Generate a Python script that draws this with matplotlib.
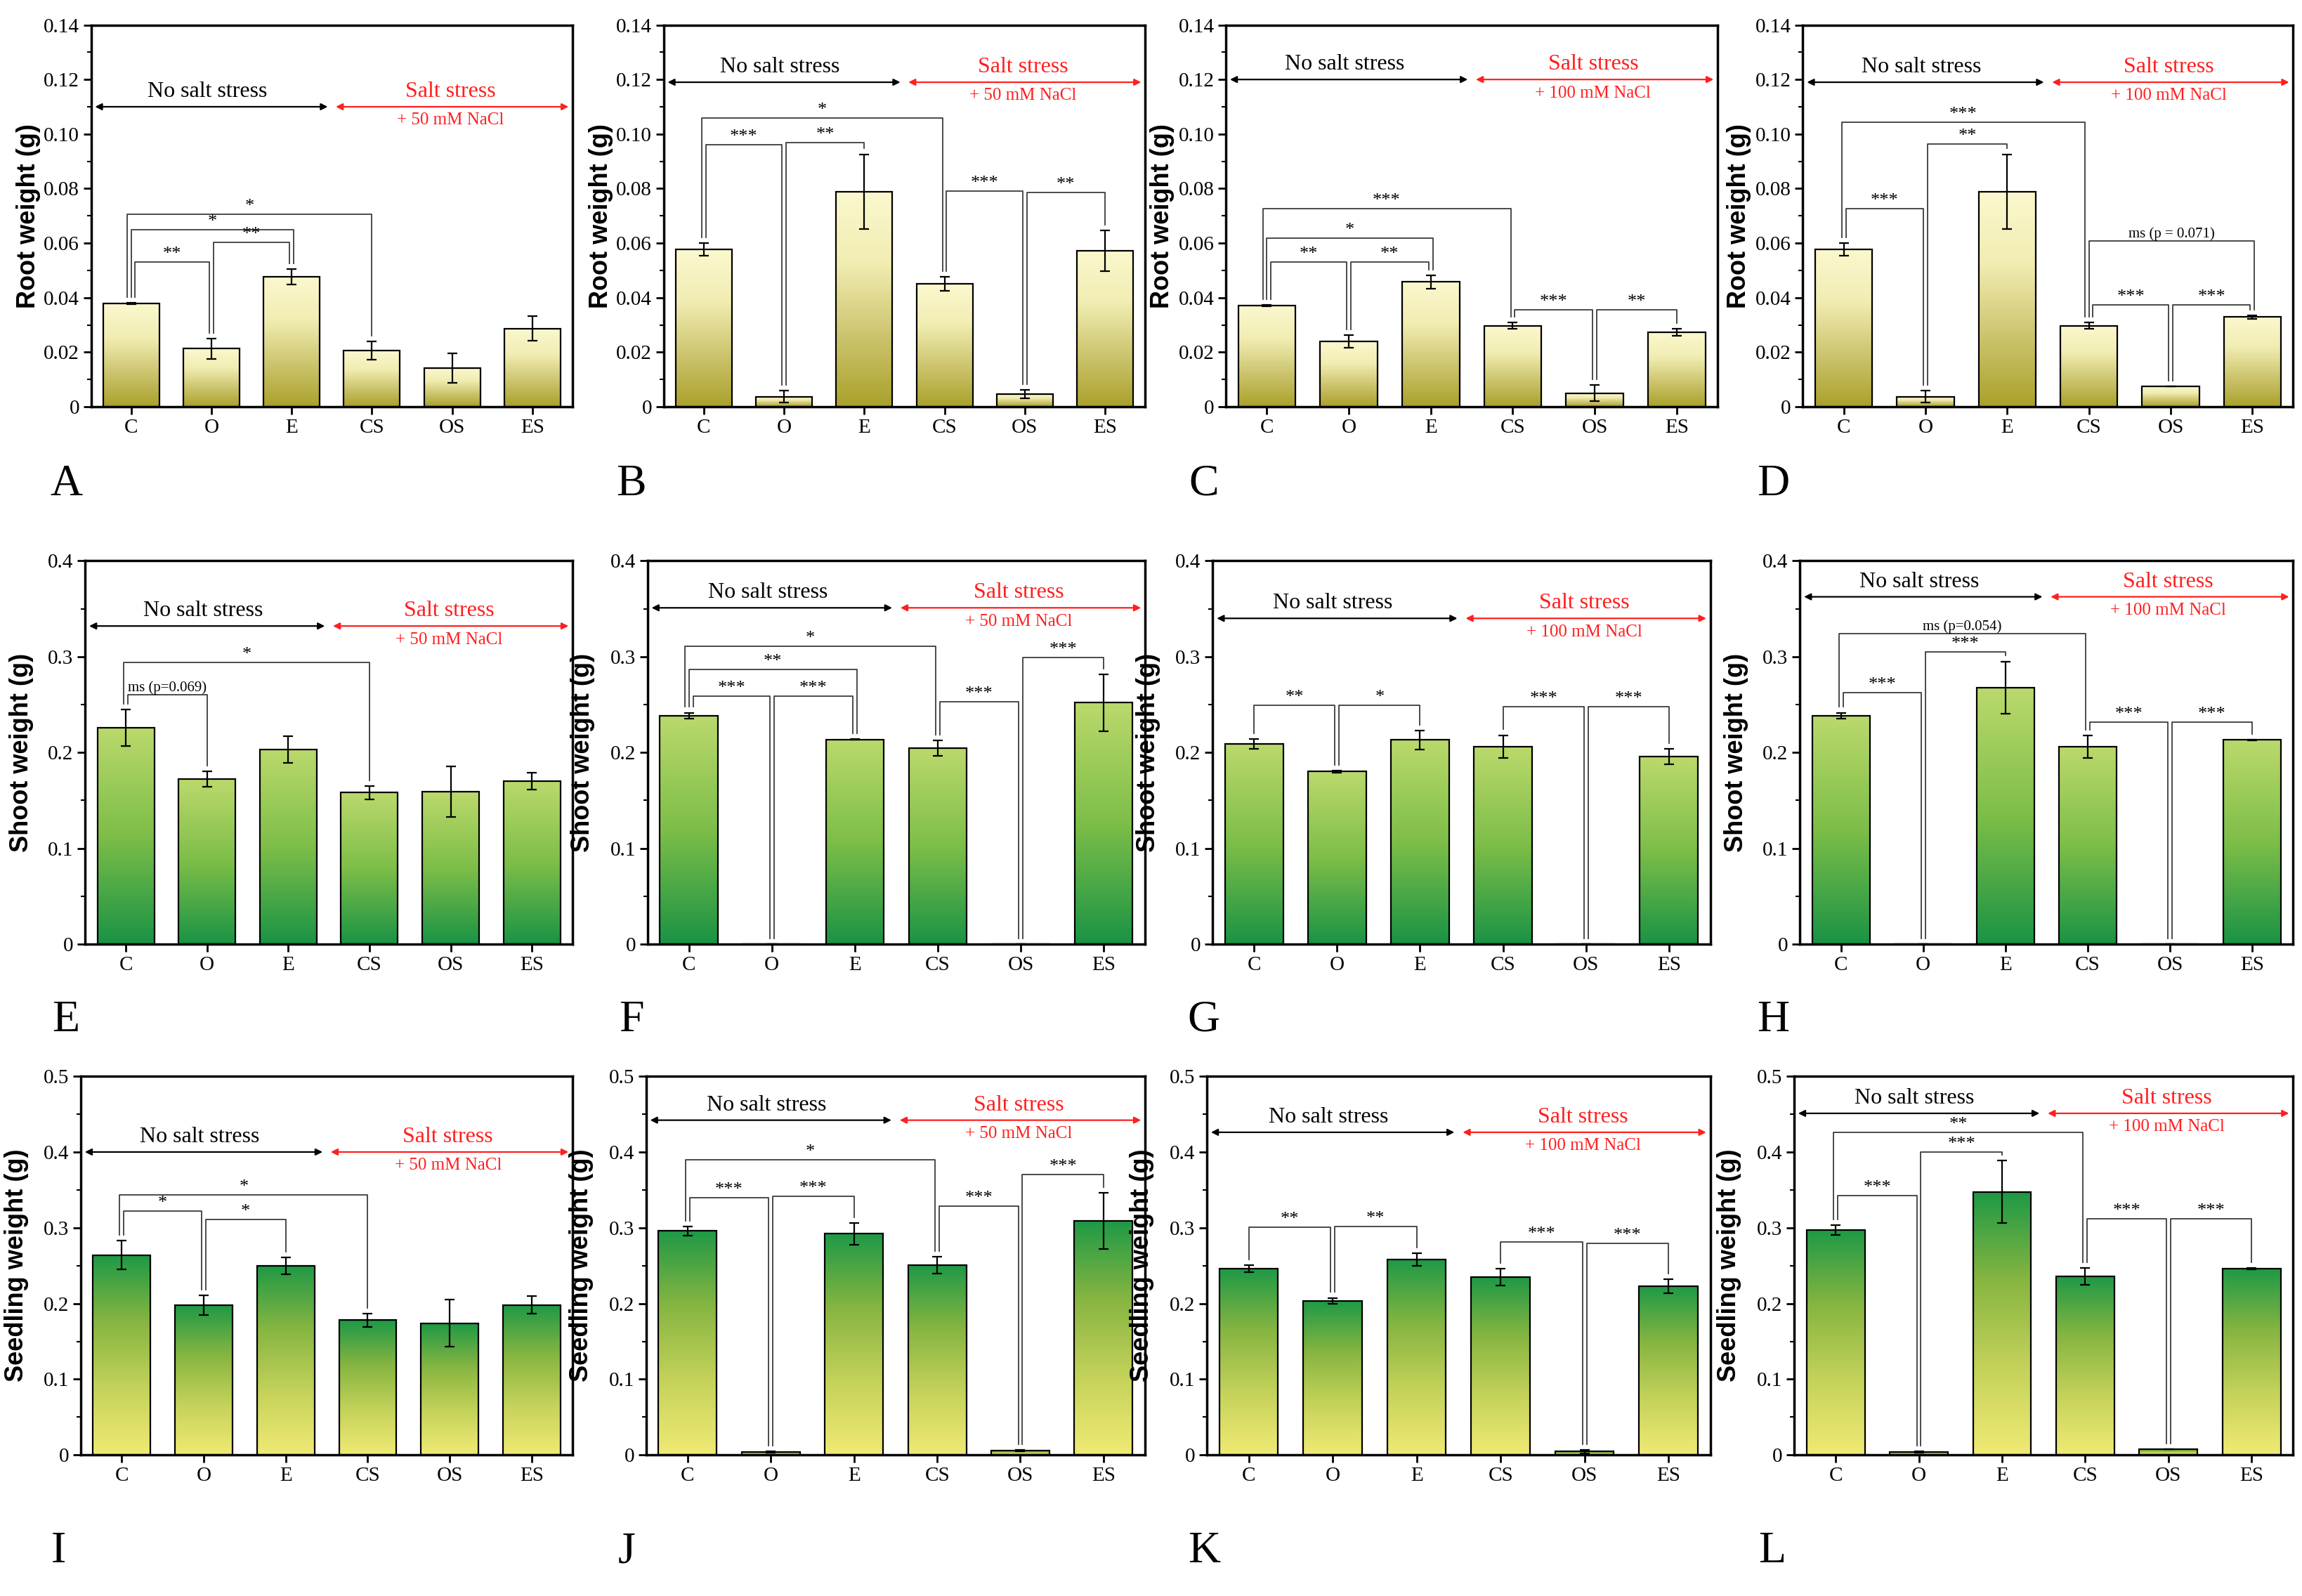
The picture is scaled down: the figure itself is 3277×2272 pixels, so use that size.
import numpy as np
import matplotlib
matplotlib.use('Agg')
import matplotlib.pyplot as plt
from matplotlib.colors import LinearSegmentedColormap
from matplotlib.ticker import MultipleLocator, FuncFormatter

plt.rcParams['font.family'] = 'Liberation Serif'

groups = ['C', 'O', 'E', 'CS', 'OS', 'ES']

# root weight (g)
a_mean = [0.0378, 0.0213, 0.0476, 0.0206, 0.0142, 0.0287]
a_err = [0.0003, 0.0037, 0.0029, 0.0034, 0.0054, 0.0046]
b_mean = [0.0578, 0.0037, 0.0789, 0.0450, 0.0047, 0.0572]
b_err = [0.0023, 0.0022, 0.0137, 0.0026, 0.0015, 0.0075]
c_mean = [0.0371, 0.0239, 0.0458, 0.0297, 0.0050, 0.0273]
c_err = [0.0003, 0.0023, 0.0024, 0.0011, 0.0030, 0.0013]
d_mean = [0.0578, 0.0037, 0.0789, 0.0297, 0.0075, 0.0329]
d_err = [0.0023, 0.0022, 0.0137, 0.0011, 0.0, 0.0006]
# shoot weight (g)
e_mean = [0.226, 0.172, 0.203, 0.158, 0.159, 0.170]
e_err = [0.019, 0.008, 0.014, 0.007, 0.0265, 0.009]
f_mean = [0.2385, 0.0, 0.2135, 0.2045, 0.0, 0.252]
f_err = [0.003, 0.0, 0.0005, 0.008, 0.0, 0.0296]
g_mean = [0.209, 0.180, 0.213, 0.206, 0.0, 0.1955]
g_err = [0.005, 0.001, 0.010, 0.012, 0.0, 0.008]
h_mean = [0.2385, 0.0, 0.2677, 0.206, 0.0, 0.213]
h_err = [0.003, 0.0, 0.0274, 0.0117, 0.0, 0.0005]
# seedling weight (g)
i_mean = [0.264, 0.198, 0.250, 0.178, 0.174, 0.198]
i_err = [0.019, 0.013, 0.011, 0.009, 0.031, 0.0115]
j_mean = [0.296, 0.004, 0.292, 0.2505, 0.0056, 0.309]
j_err = [0.006, 0.001, 0.0146, 0.011, 0.001, 0.037]
k_mean = [0.246, 0.2035, 0.258, 0.2346, 0.0045, 0.2226]
k_err = [0.005, 0.004, 0.008, 0.011, 0.002, 0.0094]
l_mean = [0.2968, 0.0041, 0.3475, 0.236, 0.0079, 0.246]
l_err = [0.0064, 0.001, 0.0413, 0.011, 0.0, 0.0006]

# significance brackets: (left bar, right bar, bracket height, label)
a_sig = [(0, 1, 0.053, '**'), (1, 2, 0.0602, '**'), (0, 2, 0.0649, '*'), (0, 3, 0.0705, '*')]
b_sig = [(0, 1, 0.0962, '***'), (1, 2, 0.0969, '**'), (0, 3, 0.1059, '*'),
         (3, 4, 0.0791, '***'), (4, 5, 0.0786, '**')]
c_sig = [(0, 1, 0.053, '**'), (1, 2, 0.053, '**'), (0, 2, 0.0618, '*'), (0, 3, 0.0726, '***'),
         (3, 4, 0.0355, '***'), (4, 5, 0.0355, '**')]
d_sig = [(0, 1, 0.0726, '***'), (1, 2, 0.0964, '**'), (0, 3, 0.1043, '***'),
         (3, 5, 0.0607, 'ms (p = 0.071)'), (3, 4, 0.0374, '***'), (4, 5, 0.0374, '***')]
e_sig = [(0, 1, 0.260, 'ms (p=0.069)'), (0, 3, 0.294, '*')]
f_sig = [(0, 1, 0.2586, '***'), (1, 2, 0.2586, '***'), (0, 2, 0.2866, '**'), (0, 3, 0.311, '*'),
         (3, 4, 0.2526, '***'), (4, 5, 0.2992, '***')]
g_sig = [(0, 1, 0.249, '**'), (1, 2, 0.249, '*'), (3, 4, 0.248, '***'), (4, 5, 0.248, '***')]
h_sig = [(0, 1, 0.2626, '***'), (1, 2, 0.3053, '***'), (0, 3, 0.3239, 'ms (p=0.054)'),
         (3, 4, 0.2316, '***'), (4, 5, 0.2316, '***')]
i_sig = [(0, 1, 0.322, '*'), (1, 2, 0.311, '*'), (0, 3, 0.343, '*')]
j_sig = [(0, 1, 0.3395, '***'), (1, 2, 0.3413, '***'), (0, 3, 0.390, '*'),
         (3, 4, 0.329, '***'), (4, 5, 0.370, '***')]
k_sig = [(0, 1, 0.3003, '**'), (1, 2, 0.302, '**'), (3, 4, 0.281, '***'), (4, 5, 0.2797, '***')]
l_sig = [(0, 1, 0.3422, '***'), (1, 2, 0.400, '***'), (0, 3, 0.4256, '**'),
         (3, 4, 0.3118, '***'), (4, 5, 0.3118, '***')]

# height of the "No salt stress / Salt stress" arrows
arrow_y = [0.110, 0.119, 0.120, 0.119, 0.332, 0.351, 0.340, 0.3625, 0.400, 0.442, 0.426, 0.451]
nacl_labels = ['+ 50 mM NaCl', '+ 50 mM NaCl', '+ 100 mM NaCl', '+ 100 mM NaCl']
panel_letters = 'ABCDEFGHIJKL'

root_cmap = LinearSegmentedColormap.from_list('root', ['#aaa12b', '#cdc56f', '#f1edb2', '#fbf8cf'])
shoot_cmap = LinearSegmentedColormap.from_list('shoot', ['#1a9345', '#7dbe48', '#bbd96c'])
seed_cmap = LinearSegmentedColormap.from_list('seed', ['#f0ea74', '#c4d25a', '#86b541', '#1e9946'])


def draw_panel(ax, mean, err, sig, ymax, major, fmt, cmap, ylabel, ay, nacl):
    x = np.arange(len(groups))
    w = 0.7
    grad = np.linspace(0, 1, 256).reshape(-1, 1)
    for xi, hv in zip(x, mean):
        if hv > 0:
            ax.imshow(grad, extent=[xi - w / 2, xi + w / 2, 0, hv], origin='lower',
                      aspect='auto', cmap=cmap, zorder=1, interpolation='bilinear')
    ax.bar(x, mean, width=w, fill=False, edgecolor='black', linewidth=1.6, zorder=2)
    ax.errorbar(x, mean, yerr=err, fmt='none', ecolor='black', elinewidth=1.6,
                capsize=5, capthick=1.6, zorder=3)

    # bracket legs sharing a bar are placed side by side
    legs = {}
    for n, (i, j, top, lab) in enumerate(sig):
        legs.setdefault(j, []).append((0, top, n))
        legs.setdefault(i, []).append((1, -top, n))
    xpos = {}
    for kbar, items in legs.items():
        items.sort()
        for idx, (side, t, n) in enumerate(items):
            xpos[(n, side)] = kbar + (idx - (len(items) - 1) / 2) * 0.05
    gap = 0.015 * ymax
    for n, (i, j, top, lab) in enumerate(sig):
        xl = xpos[(n, 1)]
        xr = xpos[(n, 0)]
        yl = mean[i] + err[i] + gap
        yr = mean[j] + err[j] + gap
        ax.plot([xl, xl, xr, xr], [yl, top, top, yr], color='#3c3c3c', lw=1.3, zorder=4)
        fs = 15 if lab.startswith('ms') else 19
        ax.text((xl + xr) / 2, top, lab, ha='center', va='bottom', fontsize=fs, zorder=5)

    red = '#ff1f1f'
    ax.annotate('', xy=(2.45, ay), xytext=(-0.45, ay),
                arrowprops=dict(arrowstyle='<|-|>', color='black', lw=1.6,
                                mutation_scale=14, shrinkA=0, shrinkB=0))
    ax.annotate('', xy=(5.45, ay), xytext=(2.55, ay),
                arrowprops=dict(arrowstyle='<|-|>', color=red, lw=1.6,
                                mutation_scale=14, shrinkA=0, shrinkB=0))
    ax.annotate('No salt stress', xy=(0.95, ay), xytext=(0, 5), textcoords='offset points',
                ha='center', va='bottom', fontsize=23)
    ax.annotate('Salt stress', xy=(3.98, ay), xytext=(0, 5), textcoords='offset points',
                ha='center', va='bottom', fontsize=23, color=red)
    ax.annotate(nacl, xy=(3.98, ay), xytext=(0, -6), textcoords='offset points',
                ha='center', va='top', fontsize=18, color=red)

    ax.set_xlim(-0.5, 5.5)
    ax.set_ylim(0, ymax)
    ax.set_xticks(x)
    ax.set_xticklabels(groups)
    ax.yaxis.set_major_locator(MultipleLocator(major))
    ax.yaxis.set_minor_locator(MultipleLocator(major / 2))
    ax.yaxis.set_major_formatter(FuncFormatter(lambda v, p: '0' if abs(v) < 1e-9 else fmt.format(v)))
    ax.tick_params(which='major', direction='out', length=8, width=2, labelsize=21, pad=4)
    ax.tick_params(which='minor', direction='out', length=4, width=1.5)
    for s in ax.spines.values():
        s.set_linewidth(2.5)
    ax.set_ylabel(ylabel, fontsize=26, fontweight='bold', family='Liberation Sans')
    ax.yaxis.set_label_coords(-0.105, 0.5)


fig = plt.figure(figsize=(32.77, 22.72), dpi=100)
W, H = 1568.0, 1087.0
row_tb = [(17, 277), (382, 643), (733, 991)]
row_lr = [[(62, 390), (452, 780), (835, 1170), (1228, 1562)],
          [(58, 390), (441, 780), (826, 1165), (1226, 1562)],
          [(55, 390), (440, 780), (822, 1165), (1222, 1562)]]
letter_xy = [[45, 430, 820, 1208], [45, 430, 820, 1208], [40, 427, 820, 1207]]
letter_y = [330, 695, 1057]

means = [a_mean, b_mean, c_mean, d_mean, e_mean, f_mean, g_mean, h_mean, i_mean, j_mean, k_mean, l_mean]
errs = [a_err, b_err, c_err, d_err, e_err, f_err, g_err, h_err, i_err, j_err, k_err, l_err]
sigs = [a_sig, b_sig, c_sig, d_sig, e_sig, f_sig, g_sig, h_sig, i_sig, j_sig, k_sig, l_sig]
row_cfg = [(0.14, 0.02, '{:.2f}', root_cmap, 'Root weight (g)'),
           (0.4, 0.1, '{:.1f}', shoot_cmap, 'Shoot weight (g)'),
           (0.5, 0.1, '{:.1f}', seed_cmap, 'Seedling weight (g)')]

for r in range(3):
    top, bot = row_tb[r]
    ymax, major, fmt, cmap, ylabel = row_cfg[r]
    for c in range(4):
        n = r * 4 + c
        left, right = row_lr[r][c]
        ax = fig.add_axes([left / W, 1 - bot / H, (right - left) / W, (bot - top) / H])
        draw_panel(ax, means[n], errs[n], sigs[n], ymax, major, fmt, cmap, ylabel,
                   arrow_y[n], nacl_labels[c])
        fig.text(letter_xy[r][c] / W, 1 - letter_y[r] / H, panel_letters[n],
                 fontsize=46, ha='center', va='center')

fig.savefig('out.png', dpi=100)
